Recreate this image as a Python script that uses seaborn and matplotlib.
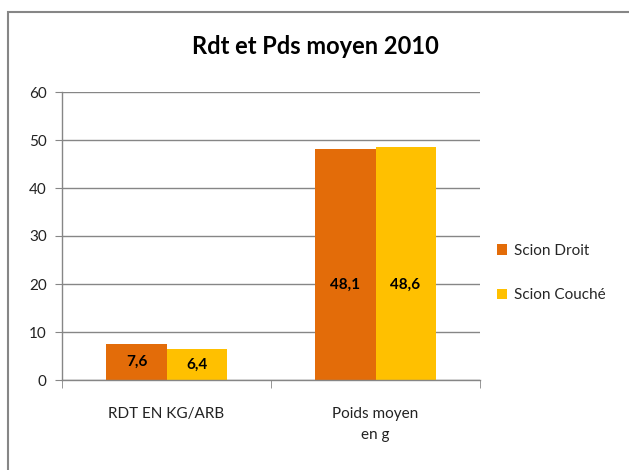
import matplotlib
matplotlib.use("Agg")
import matplotlib.pyplot as plt
import seaborn as sns
import pandas as pd
from matplotlib.patches import Rectangle, Patch

categories = ["RDT EN KG/ARB", "Poids moyen\nen g"]
series = ["Scion Droit", "Scion Couché"]
scion_droit = [7.6, 48.1]
scion_couche = [6.4, 48.6]
label_droit = ["7,6", "48,1"]
label_couche = ["6,4", "48,6"]
colors = ["#E36C09", "#FFC000"]

df = pd.DataFrame({
    "cat": categories * 2,
    "serie": [series[0]] * 2 + [series[1]] * 2,
    "val": scion_droit + scion_couche,
})

sns.set_style("white")
plt.rcParams["font.family"] = ["Lato", "DejaVu Sans"]

fig = plt.figure(figsize=(6.29, 4.70), dpi=100)
ax = fig.add_axes([62/629, 1-380/470, (480-62)/629, (380-92)/470])

sns.barplot(data=df, x="cat", y="val", hue="serie", palette=colors,
            width=0.575, saturation=1, ax=ax, legend=False, errorbar=None,
            linewidth=0, edgecolor="none")

ax.set_ylim(0, 60)
ax.set_xlim(-0.5, 1.5)
ax.set_yticks(range(0, 61, 10))
ax.yaxis.grid(True, color="#868686", linewidth=1)
ax.set_axisbelow(True)
for s in ["top", "right"]:
    ax.spines[s].set_visible(False)
for s in ["left", "bottom"]:
    ax.spines[s].set_color("#868686")
    ax.spines[s].set_linewidth(1)
ax.tick_params(axis="y", left=True, length=5, color="#868686", labelsize=11, labelcolor="#222222", pad=6)
ax.set_xticks([0, 1])
ax.set_xticklabels(categories, fontsize=11, color="#222222", linespacing=1.6)
ax.tick_params(axis="x", bottom=False, pad=16)
ax.set_xticks([-0.5, 0.5, 1.5], minor=True)
ax.tick_params(axis="x", which="minor", bottom=True, length=6, color="#868686")
ax.set_xlabel("")
ax.set_ylabel("")

labels = [label_droit, label_couche]
for cont, labs in zip(ax.containers, labels):
    for rect, lab in zip(cont, labs):
        h = rect.get_height()
        y = min(h / 2, 0.33 * 60)
        ax.text(rect.get_x() + rect.get_width() / 2, y, lab, ha="center", va="center",
                fontsize=11, fontweight="bold", color="black")

fig.text(315/629, 1 - 46/470, "Rdt et Pds moyen 2010",
         ha="center", va="center", fontsize=17, fontweight="bold", color="black")

handles = [Patch(facecolor=c, edgecolor="none") for c in colors]
fig.legend(handles, series, loc="center left", bbox_to_anchor=(483/629, 1 - 273/470),
           frameon=False, fontsize=11, handlelength=0.7, handleheight=0.7,
           handletextpad=0.4, labelspacing=2.0)

fig.patches.append(Rectangle((8/629, -0.05), 1.0, 1 - 12/470 + 0.05, transform=fig.transFigure,
                             fill=False, edgecolor="#868686", linewidth=1.5))

fig.savefig("out.png", dpi=100)
